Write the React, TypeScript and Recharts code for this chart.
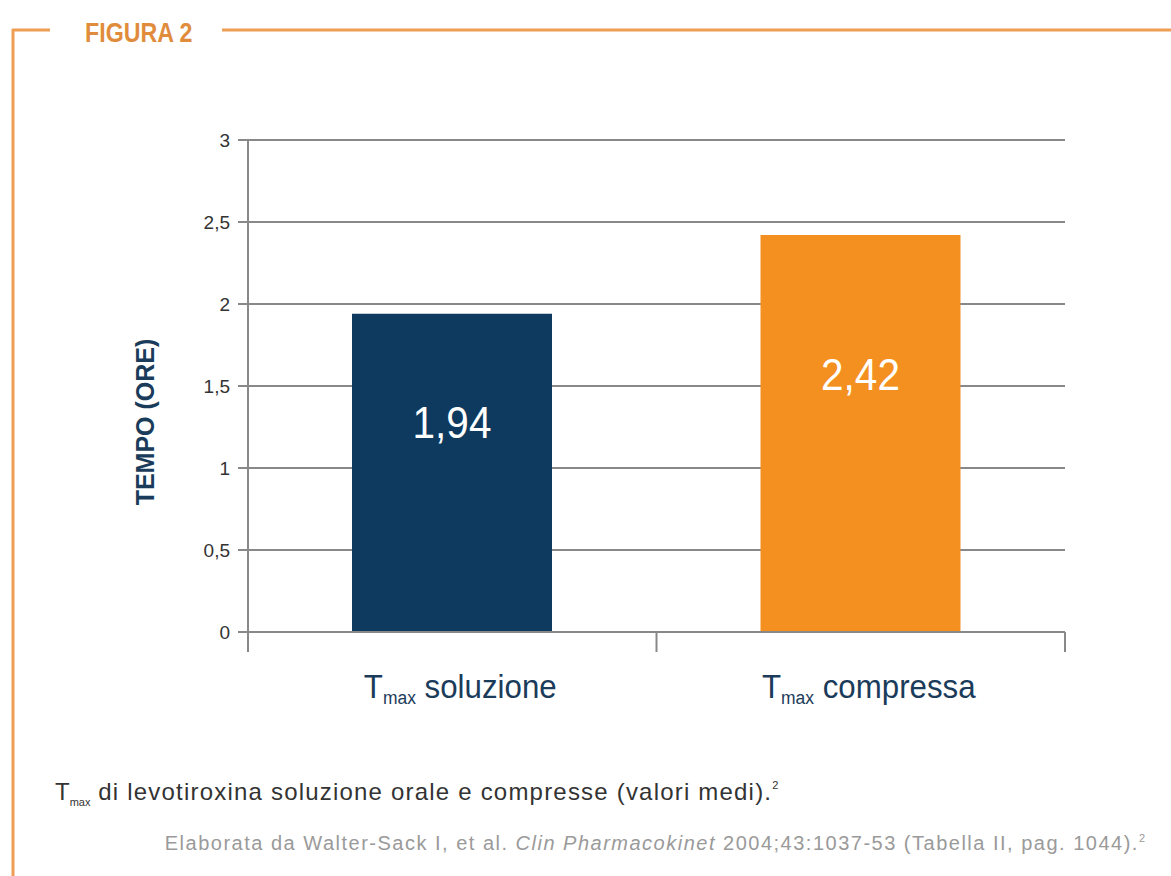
import React from 'react';
import { Bar, BarChart, CartesianGrid, Cell, LabelList, XAxis, YAxis } from 'recharts';

const categories = ['soluzione', 'compressa'];
const tmaxValues = [1.94, 2.42];
const barColors = ['#0d3a5e', '#f39020'];
const yTicks = [0, 0.5, 1, 1.5, 2, 2.5, 3];

const data = categories.map((name, i) => ({ name, value: tmaxValues[i], color: barColors[i] }));

const W = 1171;
const H = 876;
const PLOT_LEFT = 248;
const PLOT_RIGHT = 1065;
const PLOT_TOP = 140;
const PLOT_BOTTOM = 632;
const BAND = (PLOT_RIGHT - PLOT_LEFT) / categories.length;
const Y_AXIS_W = 60;
const X_AXIS_H = 100;

const sans = '"Liberation Sans", Arial, sans-serif';
const navy = '#1b3b5a';
const frame = '#ee9f55';
const grid = '#888888';

const fmt = (v: number) => String(v).replace('.', ',');

function CategoryTick(props: any) {
  const { x, payload, index } = props;
  const left = x - BAND / 2;
  const right = x + BAND / 2;
  return (
    <g>
      <line x1={left} x2={left} y1={PLOT_BOTTOM} y2={PLOT_BOTTOM + 20} stroke={grid} strokeWidth={2} />
      {index === categories.length - 1 && (
        <line x1={right} x2={right} y1={PLOT_BOTTOM} y2={PLOT_BOTTOM + 20} stroke={grid} strokeWidth={2} />
      )}
      <text
        transform={`translate(${x + 8}, ${PLOT_BOTTOM + 66}) scale(0.92, 1)`}
        textAnchor="middle"
        fill={navy}
        fontFamily={sans}
        fontSize={34}
      >
        <tspan>T</tspan>
        <tspan fontSize={19} dy={6}>max</tspan>
        <tspan dy={-6}> {payload.value}</tspan>
      </text>
    </g>
  );
}

function ValueLabel(props: any) {
  const { x, y, width, height, value } = props;
  return (
    <text
      transform={`translate(${x + width / 2}, ${y + height * 0.39}) scale(0.9, 1)`}
      textAnchor="middle"
      fill="#ffffff"
      fontFamily={sans}
      fontSize={45}
    >
      {fmt(value)}
    </text>
  );
}

export default function App() {
  return (
    <div style={{ position: 'absolute', left: 0, top: 0, width: W, height: H, background: '#fff', overflow: 'hidden' }}>
      <svg width={W} height={H} style={{ position: 'absolute', left: 0, top: 0 }}>
        <line x1={12} x2={50} y1={30} y2={30} stroke={frame} strokeWidth={3} />
        <line x1={222} x2={W} y1={30} y2={30} stroke={frame} strokeWidth={3} />
        <line x1={13} x2={13} y1={29} y2={H} stroke={frame} strokeWidth={3} />
        <text
          transform="translate(85, 42) scale(0.86, 1)"
          fill="#e08c3c"
          fontFamily={sans}
          fontWeight="bold"
          fontSize={27}
        >
          FIGURA 2
        </text>
        <text
          transform={`translate(154, 422) rotate(-90)`}
          textAnchor="middle"
          fill={navy}
          fontFamily={sans}
          fontWeight="bold"
          fontSize={25}
        >
          TEMPO (ORE)
        </text>
        <text x={55} y={800} fill="#333" fontFamily={sans} fontSize={24}>
          <tspan>T</tspan>
          <tspan fontSize={11} dy={6}>max</tspan>
          <tspan dy={-6} letterSpacing={1.2}> di levotiroxina soluzione orale e compresse (valori medi).</tspan>
          <tspan fontSize={11} dy={-11}>2</tspan>
        </text>
        <text x={1145} y={850} textAnchor="end" fill="#9a9a9a" fontFamily={sans} fontSize={20} letterSpacing={1.5}>
          <tspan>Elaborata da Walter-Sack I, et al. </tspan>
          <tspan fontStyle="italic">Clin Pharmacokinet</tspan>
          <tspan> 2004;43:1037-53 (Tabella II, pag. 1044).</tspan>
          <tspan fontSize={11} dy={-8} letterSpacing={0}>2</tspan>
        </text>
      </svg>
      <div style={{ position: 'absolute', left: 0, top: 0 }}>
        <BarChart
          width={W}
          height={H}
          data={data}
          margin={{
            top: PLOT_TOP,
            right: W - PLOT_RIGHT,
            bottom: H - PLOT_BOTTOM - X_AXIS_H,
            left: PLOT_LEFT - Y_AXIS_W,
          }}
          barCategoryGap={0}
        >
          <CartesianGrid horizontal vertical={false} stroke={grid} strokeWidth={2} />
          <XAxis
            dataKey="name"
            axisLine={{ stroke: grid, strokeWidth: 2 }}
            tickLine={false}
            tick={<CategoryTick />}
            interval={0}
            height={X_AXIS_H}
          />
          <YAxis
            width={Y_AXIS_W}
            domain={[0, 3]}
            ticks={yTicks}
            tickFormatter={fmt}
            axisLine={{ stroke: grid, strokeWidth: 2 }}
            tickLine={{ stroke: grid, strokeWidth: 2 }}
            tickSize={10}
            tickMargin={8}
            tick={{ fill: '#333', fontSize: 19, fontFamily: sans }}
          />
          <Bar dataKey="value" barSize={200} isAnimationActive={false}>
            {data.map((d) => (
              <Cell key={d.name} fill={d.color} />
            ))}
            <LabelList dataKey="value" content={<ValueLabel />} />
          </Bar>
        </BarChart>
      </div>
    </div>
  );
}
